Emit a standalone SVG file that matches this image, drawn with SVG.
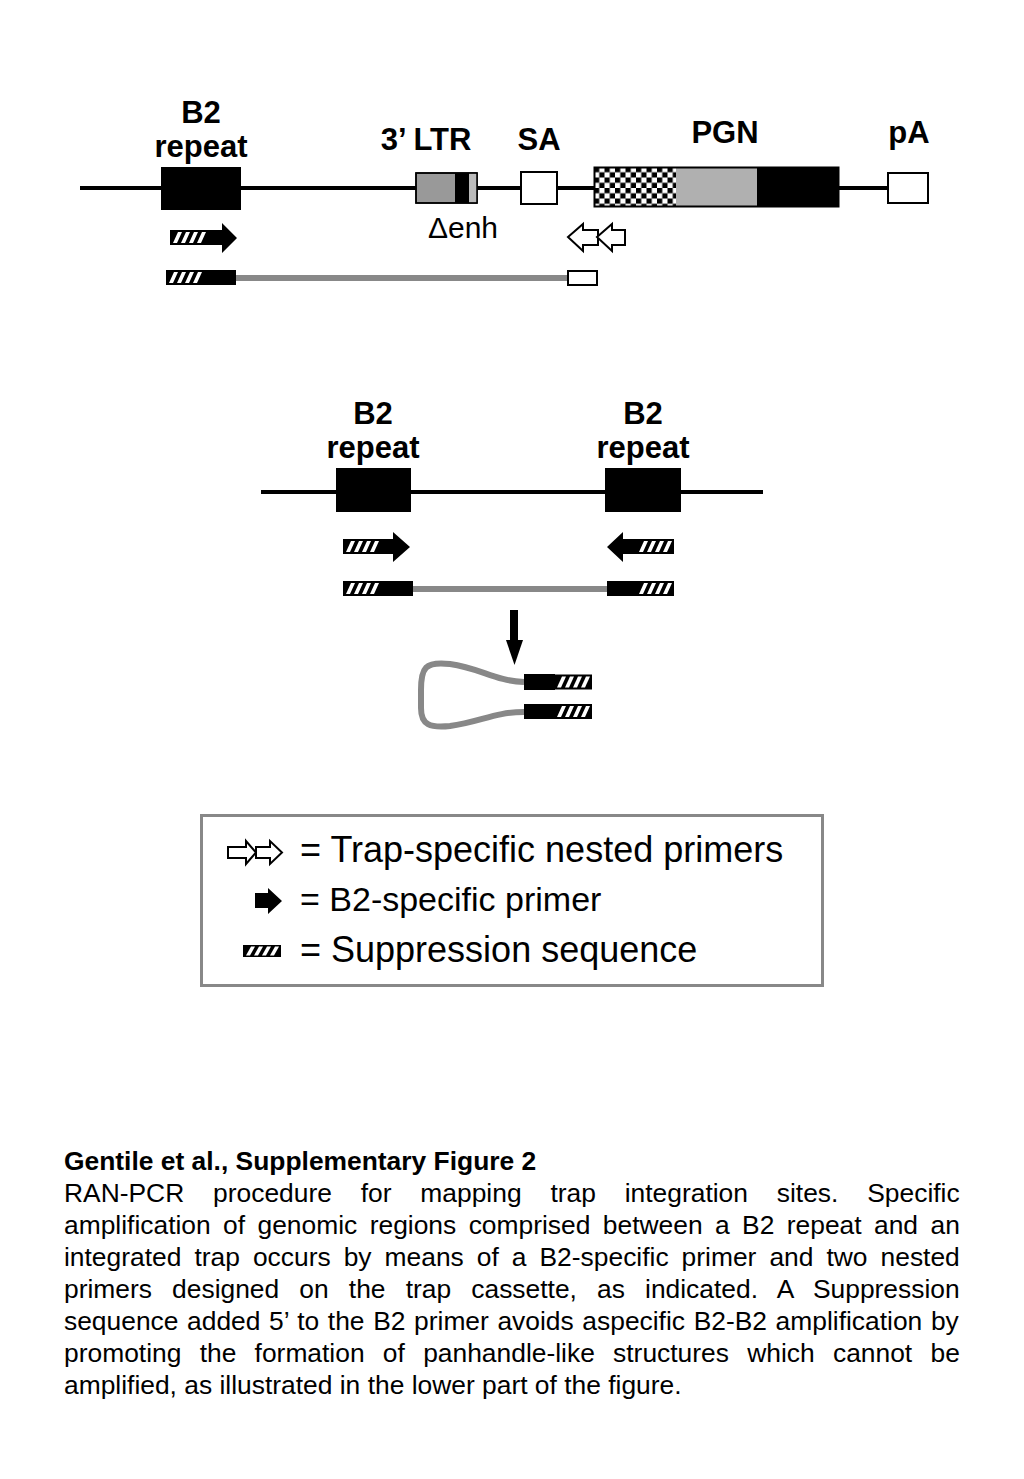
<svg xmlns="http://www.w3.org/2000/svg" xmlns:xlink="http://www.w3.org/1999/xlink" width="1024" height="1479" viewBox="0 0 1024 1479">
<style>
.lbl{font-family:"Liberation Sans",Arial,sans-serif;font-weight:bold;font-size:31px;fill:#000;text-anchor:middle}
.leg{font-family:"Liberation Sans",Arial,sans-serif;font-size:36px;fill:#000}
.cap{font-family:"Liberation Sans",Arial,sans-serif;font-size:26.4px;fill:#000}
.dna{stroke:#000;stroke-width:4;fill:none}
.prod{stroke:#888;stroke-width:6;fill:none}
.blk{fill:#000}
.open{fill:#fff;stroke:#000;stroke-width:2}
</style>
<defs>
<pattern id="checker" x="594" y="167" width="10.5" height="10.5" patternUnits="userSpaceOnUse">
<rect width="10.5" height="10.5" fill="#fff"/>
<rect width="5.25" height="5.25" fill="#000"/>
<rect x="5.25" y="5.25" width="5.25" height="5.25" fill="#000"/>
</pattern>
<g id="hatch">
<rect width="38" height="15" fill="#000"/>
<polygon points="3,13 7,13 12,2 8,2" fill="#fff"/>
<polygon points="11,13 15,13 20,2 16,2" fill="#fff"/>
<polygon points="19,13 23,13 28,2 24,2" fill="#fff"/>
<polygon points="27,13 31,13 36,2 32,2" fill="#fff"/>
</g>
</defs>
<rect width="1024" height="1479" fill="#fff"/>

<g id="connectors">
<line class="dna" x1="80" y1="188" x2="888" y2="188"/>
<line class="prod" x1="236" y1="278" x2="568" y2="278"/>
<line class="dna" x1="261" y1="492" x2="763" y2="492"/>
<line class="prod" x1="413" y1="589" x2="607" y2="589"/>
<path class="prod" stroke-width="7" d="M524,682 C495,681 480,668 450,664 C425,661 421,668 421,690 L421,708 C421,725 430,728 450,726 C480,722 495,712 524,712"/>
<g id="down-arrow">
<rect x="510" y="610" width="8" height="31" class="blk"/>
<polygon points="506,640 523,640 514.5,665" class="blk"/>
</g>
</g>

<g id="b2-top">
<text class="lbl" x="201" y="123">B2</text>
<text class="lbl" x="201" y="157">repeat</text>
<rect x="161" y="167" width="80" height="43" class="blk"/>
</g>
<g id="ltr">
<text class="lbl" x="426" y="150">3’ LTR</text>
<rect x="416" y="173" width="61" height="30" fill="#999" stroke="#000" stroke-width="1.5"/>
<rect x="469" y="173.5" width="8" height="29" fill="#bbb"/>
<rect x="455" y="173" width="14" height="30" class="blk"/>
<rect x="416" y="173" width="61" height="30" fill="none" stroke="#000" stroke-width="1.5"/>
<text x="463" y="238" font-family="Liberation Sans,Arial,sans-serif" font-size="30" text-anchor="middle">Δenh</text>
</g>
<g id="sa">
<text class="lbl" x="539" y="150">SA</text>
<rect x="521" y="172" width="36" height="32" fill="#fff" stroke="#000" stroke-width="2"/>
</g>
<g id="pgn">
<text class="lbl" x="725" y="143">PGN</text>
<rect x="594" y="167" width="82" height="40" fill="url(#checker)"/>
<rect x="676" y="167" width="81" height="40" fill="#b0b0b0"/>
<rect x="757" y="167" width="82" height="40" class="blk"/>
<rect x="594.5" y="167.5" width="244" height="39" fill="none" stroke="#000" stroke-width="2"/>
</g>
<g id="pa">
<text class="lbl" x="909" y="143">pA</text>
<rect x="888" y="173" width="40" height="30" fill="#fff" stroke="#000" stroke-width="2"/>
</g>
<g id="primers-top">
<use xlink:href="#hatch" x="170" y="230"/>
<polygon class="blk" points="207,230 222,230 222,223 237,238 222,253 222,245 207,245"/>
<polygon class="open" points="568,237 583,224 583,230 598,230 598,245 583,245 583,251"/>
<polygon class="open" points="597,237 612,224 612,230 625,230 625,245 612,245 612,251"/>
</g>
<g id="product-top">
<use xlink:href="#hatch" x="166" y="270"/>
<rect x="203" y="270" width="33" height="15" class="blk"/>
<rect x="568" y="271" width="29" height="14" fill="#fff" stroke="#000" stroke-width="2"/>
</g>

<g id="b2-left">
<text class="lbl" x="373" y="424">B2</text>
<text class="lbl" x="373" y="458">repeat</text>
<rect x="336" y="468" width="75" height="44" class="blk"/>
</g>
<g id="b2-right">
<text class="lbl" x="643" y="424">B2</text>
<text class="lbl" x="643" y="458">repeat</text>
<rect x="605" y="468" width="76" height="44" class="blk"/>
</g>
<g id="primers-mid">
<use xlink:href="#hatch" x="343" y="539"/>
<polygon class="blk" points="380,539 393,539 393,532 410,547 393,562 393,554 380,554"/>
<polygon class="blk" points="607,547 623,532 623,539 637,539 637,554 623,554 623,562"/>
<use xlink:href="#hatch" x="636" y="539"/>
</g>
<g id="product-mid">
<use xlink:href="#hatch" x="343" y="581"/>
<rect x="380" y="581" width="33" height="15" class="blk"/>
<rect x="607" y="581" width="30" height="15" class="blk"/>
<use xlink:href="#hatch" x="636" y="581"/>
</g>
<g id="panhandle">
<rect x="524" y="674" width="31" height="16" class="blk"/>
<use xlink:href="#hatch" x="554" y="674.5"/>
<rect x="524" y="704" width="31" height="15" class="blk"/>
<use xlink:href="#hatch" x="554" y="704"/>
</g>

<g id="legend">
<rect x="201.5" y="815.5" width="621" height="170" fill="none" stroke="#888" stroke-width="3"/>
<polygon class="open" stroke-width="1.5" points="228,847 246,847 246,841 256,852.5 246,864 246,858 228,858"/>
<polygon class="open" stroke-width="1.5" points="256,847 270,847 270,841 282,852.5 270,864 270,858 256,858"/>
<text class="leg" x="300" y="862">= Trap-specific nested primers</text>
<polygon class="blk" points="255,893 268,893 268,888 282,901 268,914 268,908 255,908"/>
<text class="leg" x="300" y="911" style="font-size:34px">= B2-specific primer</text>
<g transform="translate(243,945) scale(1,0.8)"><use xlink:href="#hatch"/></g>
<text class="leg" x="300" y="962">= Suppression sequence</text>
</g>

<g id="caption">
<text class="cap" x="64" y="1170" font-weight="bold">Gentile et al., Supplementary Figure 2</text>
<text class="cap" x="64" y="1202" word-spacing="21.5">RAN-PCR procedure for mapping trap integration sites. Specific</text>
<text class="cap" x="64" y="1234" word-spacing="5.08">amplification of genomic regions comprised between a B2 repeat and an</text>
<text class="cap" x="64" y="1266" word-spacing="5.69">integrated trap occurs by means of a B2-specific primer and two nested</text>
<text class="cap" x="64" y="1298" word-spacing="12.8">primers designed on the trap cassette, as indicated. A Suppression</text>
<text class="cap" x="64" y="1330" word-spacing="1.28">sequence added 5’ to the B2 primer avoids aspecific B2-B2 amplification by</text>
<text class="cap" x="64" y="1362" word-spacing="10.94">promoting the formation of panhandle-like structures which cannot be</text>
<text class="cap" x="64" y="1394">amplified, as illustrated in the lower part of the figure.</text>
</g>
</svg>
